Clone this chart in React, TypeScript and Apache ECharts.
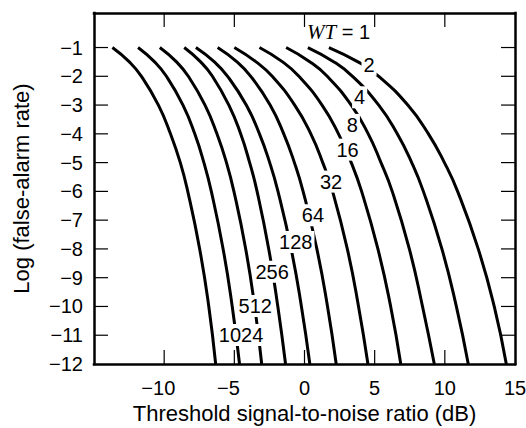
import React, { useEffect, useRef } from "react";
import * as echarts from "echarts";

// y levels (log false-alarm rate) at which curve x values (dB) were read
const yLevels = [-1, -1.5, -2, -3, -4, -5, -6, -8, -10, -12];

const wt1024 = [-13.69, -12.48, -11.62, -10.41, -9.55, -8.85, -8.32, -7.47, -6.82, -6.33];
const wt512 = [-11.86, -10.68, -9.84, -8.66, -7.82, -7.17, -6.64, -5.8, -5.15, -4.63];
const wt256 = [-10.31, -9.12, -8.28, -7.09, -6.24, -5.56, -5.03, -4.19, -3.55, -3.05];
const wt128 = [-8.57, -7.4, -6.56, -5.39, -4.55, -3.91, -3.38, -2.55, -1.9, -1.35];
const wt64 = [-7.74, -6.42, -5.48, -4.15, -3.21, -2.48, -1.89, -0.95, -0.22, 0.38];
const wt32 = [-6.19, -4.81, -3.83, -2.45, -1.48, -0.72, -0.1, 0.88, 1.64, 2.26];
const wt16 = [-5.0, -3.45, -2.3, -0.7, 0.45, 1.3, 2.0, 3.05, 3.85, 4.52];
const wt8 = [-3.21, -1.56, -0.4, 1.25, 2.42, 3.33, 4.07, 5.23, 6.14, 6.86];
const wt4 = [-1.31, 0.4, 1.62, 3.33, 4.54, 5.45, 6.25, 7.47, 8.41, 9.25];
const wt2 = [0.24, 2.1, 3.42, 5.29, 6.61, 7.64, 8.47, 9.79, 10.82, 11.67];
const wt1 = [1.74, 3.81, 5.29, 7.36, 8.83, 9.97, 10.91, 12.38, 13.52, 14.38];

const curves = [wt1024, wt512, wt256, wt128, wt64, wt32, wt16, wt8, wt4, wt2, wt1];

// curve labels: text and data position
const labelTexts = ["{it|WT} = 1", "2", "4", "8", "16", "32", "64", "128", "256", "512", "1024"];
const labelX = [2.43, 4.6, 3.93, 3.41, 3.07, 1.89, 0.6, -0.62, -2.31, -3.51, -4.52];
const labelY = [-0.45, -1.6, -2.73, -3.69, -4.55, -5.66, -6.83, -7.76, -8.79, -9.98, -10.99];

const xTickValues = [-10, -5, 0, 5, 10];
const xLabelValues = [-10, -5, 0, 5, 10, 15];
const yTickValues = [-11, -10, -9, -8, -7, -6, -5, -4, -3, -2, -1];
const yLabelValues = [-12, -11, -10, -9, -8, -7, -6, -5, -4, -3, -2, -1];

const X_MIN = -15;
const X_MAX = 15;
const Y_MIN = -12;
const Y_MAX = 0.2;

const FONT = "'Liberation Sans', Arial, Helvetica, sans-serif";

export default function App() {
  const ref = useRef<HTMLDivElement>(null);
  useEffect(() => {
    if (!ref.current) return;
    const chart = echarts.init(ref.current, null, { renderer: "svg" });

    const gridW = 421;
    const gridH = 351;
    const tickPx = 14;

    const frameLine = { show: true, onZero: false, lineStyle: { color: "#000", width: 2.5, cap: "square" } };
    const lineSeries = curves.map((xs) => ({
      type: "line",
      data: xs.map((x, i) => [x, yLevels[i]]),
      smooth: true,
      symbol: "none",
      lineStyle: { color: "#000", width: 3 },
      emphasis: { disabled: true },
      z: 2,
    }));
    const option = {
      animation: false,
      grid: {
        left: 94,
        top: 13,
        width: gridW,
        height: gridH,
        show: false,
        containLabel: false,
        outerBoundsMode: "none",
      },
      xAxis: [
        {
          type: "value",
          min: X_MIN,
          max: X_MAX,
          interval: 5,
          position: "bottom",
          axisLine: frameLine,
          splitLine: { show: false },
          axisTick: { show: false },
          axisLabel: {
            customValues: xLabelValues,
            margin: 14,
            fontSize: 20,
            color: "#000",
            fontFamily: FONT,
            formatter: (v: number) => (v < 0 ? `\u2212${-v}{h|\u2212}` : `${v}`),
            rich: { h: { color: "rgba(0,0,0,0)", fontSize: 20, fontFamily: FONT } },
          },
          name: "Threshold signal-to-noise ratio (dB)",
          nameLocation: "middle",
          nameGap: 38,
          nameTextStyle: { fontSize: 22, color: "#000", fontFamily: FONT },
        },
        {
          type: "value",
          min: X_MIN,
          max: X_MAX,
          interval: 5,
          position: "top",
          axisLine: frameLine,
          splitLine: { show: false },
          axisTick: { show: false },
          axisLabel: { show: false },
        },
      ],
      yAxis: [
        {
          type: "value",
          min: Y_MIN,
          max: Y_MAX,
          interval: 1,
          position: "left",
          axisLine: frameLine,
          splitLine: { show: false },
          axisTick: { show: false },
          axisLabel: {
            customValues: yLabelValues,
            margin: 11,
            fontSize: 20,
            color: "#000",
            fontFamily: FONT,
            formatter: (v: number) => (v < 0 ? `\u2212${-v}` : `${v}`),
          },
          name: "Log (false-alarm rate)",
          nameLocation: "middle",
          nameGap: 62,
          nameTextStyle: { fontSize: 22, color: "#000", fontFamily: FONT },
        },
        {
          type: "value",
          min: Y_MIN,
          max: Y_MAX,
          interval: 1,
          position: "right",
          axisLine: frameLine,
          splitLine: { show: false },
          axisTick: { show: false },
          axisLabel: { show: false },
        },
      ],
      series: [
        ...lineSeries,
        {
          type: "scatter",
          data: labelX.map((x, i) => [x, labelY[i]]),
          symbolSize: 0,
          itemStyle: { color: "#000", opacity: 1 },
          emphasis: { disabled: true },
          z: 5,
          label: {
            show: true,
            position: "inside",
            formatter: (p: any) => labelTexts[p.dataIndex],
            fontSize: 20,
            color: "#000",
            textBorderWidth: 0,
            fontFamily: FONT,
            backgroundColor: "#ffffff",
            padding: [1, 2],
            rich: {
              it: {
                fontFamily: "'Liberation Serif', 'DejaVu Serif', serif",
                fontStyle: "italic",
                fontSize: 21,
                color: "#000",
                textBorderWidth: 0,
              },
            },
          },
        },
      ],
    };
    chart.setOption(option as any);

    // tick marks drawn as graphic lines, positioned through the axes' scales
    const toPx = (x: number, y: number) =>
      chart.convertToPixel({ xAxisIndex: 0, yAxisIndex: 0 }, [x, y]) as number[];
    const tickEls: any[] = [];
    const tickStyle = { stroke: "#000", lineWidth: 1.2 };
    xTickValues.forEach((v) => {
      const b = toPx(v, Y_MIN);
      const t = toPx(v, Y_MAX);
      tickEls.push({ type: "line", z: 100, silent: true, shape: { x1: b[0], y1: b[1], x2: b[0], y2: b[1] - tickPx }, style: tickStyle });
      tickEls.push({ type: "line", z: 100, silent: true, shape: { x1: t[0], y1: t[1], x2: t[0], y2: t[1] + tickPx }, style: tickStyle });
    });
    yTickValues.forEach((v) => {
      const l = toPx(X_MIN, v);
      const r = toPx(X_MAX, v);
      tickEls.push({ type: "line", z: 100, silent: true, shape: { x1: l[0], y1: l[1], x2: l[0] + tickPx, y2: l[1] }, style: tickStyle });
      tickEls.push({ type: "line", z: 100, silent: true, shape: { x1: r[0], y1: r[1], x2: r[0] - tickPx, y2: r[1] }, style: tickStyle });
    });
    chart.setOption({ graphic: tickEls } as any);

    return () => chart.dispose();
  }, []);
  return (
    <div
      ref={ref}
      style={{ position: "fixed", left: 0, top: 0, width: 526, height: 428, background: "#fff" }}
    />
  );
}
